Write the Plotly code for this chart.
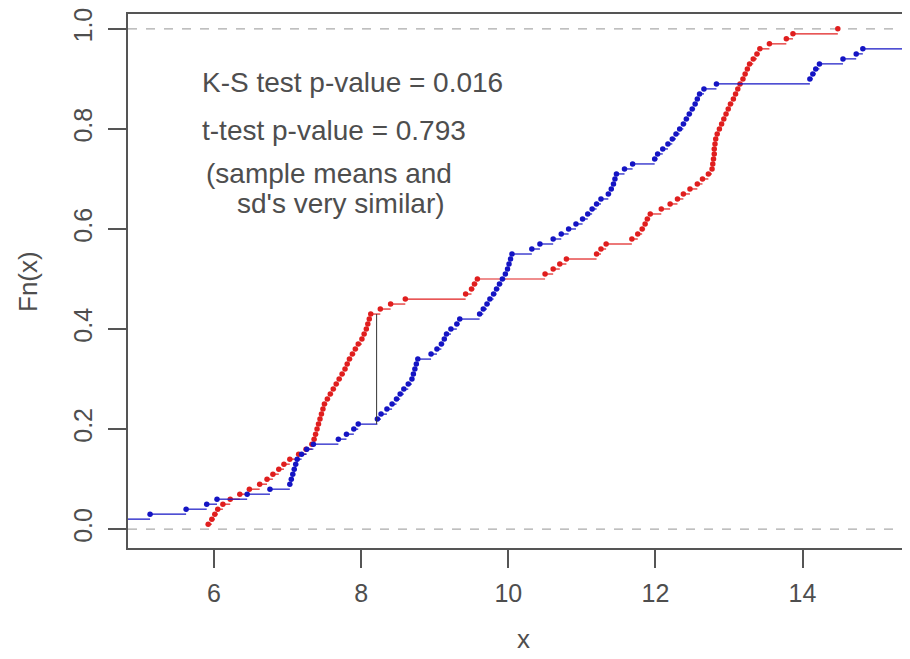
import plotly.graph_objects as go

# ---- data (sorted samples) ----
red_x = [5.92, 5.97, 6.01, 6.05, 6.12, 6.22, 6.35, 6.48, 6.62, 6.72,
         6.80, 6.88, 6.95, 7.03, 7.15, 7.25, 7.33, 7.36, 7.38, 7.40,
         7.42, 7.44, 7.46, 7.48, 7.50, 7.54, 7.58, 7.62, 7.66, 7.70,
         7.74, 7.78, 7.81, 7.84, 7.88, 7.92, 7.96, 8.01, 8.04, 8.07,
         8.09, 8.11, 8.13, 8.26, 8.40, 8.60, 9.42, 9.50, 9.54, 9.58,
         10.50, 10.61, 10.70, 10.79, 11.20, 11.26, 11.33, 11.68, 11.76, 11.82,
         11.86, 11.89, 11.93, 12.08, 12.20, 12.30, 12.38, 12.47, 12.57, 12.64,
         12.72, 12.77, 12.78, 12.79, 12.80, 12.80, 12.81, 12.82, 12.84, 12.87,
         12.90, 12.93, 12.96, 12.99, 13.02, 13.06, 13.09, 13.12, 13.15, 13.19,
         13.22, 13.25, 13.28, 13.33, 13.38, 13.42, 13.55, 13.78, 13.87, 14.48]

blue_x = [4.40, 4.70, 5.13, 5.62, 5.90, 6.04, 6.45, 6.76, 7.03, 7.05,
          7.07, 7.09, 7.11, 7.13, 7.19, 7.26, 7.35, 7.69, 7.80, 7.90,
          7.96, 8.22, 8.27, 8.35, 8.42, 8.48, 8.53, 8.58, 8.64, 8.69,
          8.71, 8.73, 8.75, 8.77, 8.95, 9.03, 9.09, 9.13, 9.16, 9.22,
          9.30, 9.34, 9.61, 9.66, 9.71, 9.75, 9.80, 9.84, 9.88, 9.92,
          9.96, 9.99, 10.01, 10.03, 10.05, 10.32, 10.43, 10.61, 10.72, 10.82,
          10.92, 11.01, 11.08, 11.14, 11.20, 11.26, 11.36, 11.40, 11.43, 11.45,
          11.47, 11.58, 11.69, 11.99, 12.03, 12.10, 12.17, 12.23, 12.28, 12.33,
          12.38, 12.42, 12.46, 12.50, 12.54, 12.57, 12.60, 12.66, 12.83, 14.10,
          14.14, 14.18, 14.23, 14.55, 14.73, 14.82, 15.70, 16.00, 16.40, 16.90]

ks_x = 8.21  # location of the K-S maximum distance

x_ticks = [6, 8, 10, 12, 14]
x_tick_labels = ["6", "8", "10", "12", "14"]
y_ticks = [0.0, 0.2, 0.4, 0.6, 0.8, 1.0]
y_tick_labels = ["0.0", "0.2", "0.4", "0.6", "0.8", "1.0"]

note_lines = ["K-S test p-value = 0.016",
              "t-test p-value = 0.793",
              "(sample means and",
              "sd's very similar)"]

RED = "#e01e1e"
BLUE = "#1414c4"
TXT = "#4e4e4e"
AX = "#555555"
FONT = "Liberation Sans, Arial, sans-serif"


def ecdf_points(vals):
    n = len(vals)
    return list(vals), [(k + 1) / n for k in range(n)]


def ecdf_segments(vals):
    n = len(vals)
    xs, ys = [], []
    for k in range(n - 1):
        y = (k + 1) / n
        xs += [vals[k], vals[k + 1], None]
        ys += [y, y, None]
    return xs, ys


def ecdf_at(vals, x):
    return sum(1 for v in vals if v <= x) / len(vals)


fig = go.Figure()

for vals, col in ((red_x, RED), (blue_x, BLUE)):
    sx, sy = ecdf_segments(vals)
    fig.add_trace(go.Scatter(x=sx, y=sy, mode="lines",
                             line=dict(color=col, width=1.2),
                             hoverinfo="skip", showlegend=False))
    px_, py_ = ecdf_points(vals)
    fig.add_trace(go.Scatter(x=px_, y=py_, mode="markers",
                             marker=dict(color=col, size=5.5),
                             showlegend=False))

# K-S distance segment
fig.add_trace(go.Scatter(x=[ks_x, ks_x],
                         y=[ecdf_at(blue_x, ks_x), ecdf_at(red_x, ks_x)],
                         mode="lines", line=dict(color="#333333", width=1),
                         showlegend=False))

# dashed reference lines at 0 and 1
for yv in (0, 1):
    fig.add_shape(type="line", xref="paper", x0=0, x1=1, yref="y", y0=yv, y1=yv,
                  line=dict(color="#aaaaaa", width=1.2, dash="dash"), layer="below")

note_pos = [(5.81, 0.893), (5.81, 0.796), (5.864, 0.711), (6.285, 0.651)]
for txt, (ax_, ay_) in zip(note_lines, note_pos):
    fig.add_annotation(x=ax_, y=ay_, xref="x", yref="y", text=txt, showarrow=False,
                       xanchor="left", yanchor="middle",
                       font=dict(family=FONT, size=28, color=TXT))

fig.add_annotation(x=0.5, y=-0.17, xref="paper", yref="paper", text="x",
                   showarrow=False, font=dict(family=FONT, size=26, color=TXT),
                   xanchor="center", yanchor="middle")
fig.add_annotation(x=-0.1266, y=0.5, xref="paper", yref="paper", text="Fn(x)",
                   showarrow=False, textangle=-90,
                   font=dict(family=FONT, size=26, color=TXT),
                   xanchor="center", yanchor="middle")

fig.update_layout(
    width=910, height=659,
    margin=dict(l=120, r=0, t=1, b=119),
    paper_bgcolor="white", plot_bgcolor="white",
    showlegend=False,
    xaxis=dict(range=[4.83, 15.57], tickvals=x_ticks, ticktext=x_tick_labels,
               showgrid=False, zeroline=False, showline=True, linecolor=AX,
               linewidth=1.5, mirror=True, ticks="outside", ticklen=18,
               tickcolor=AX, tickwidth=1.5, ticklabelstandoff=4,
               tickfont=dict(family=FONT, size=25, color=TXT)),
    yaxis=dict(range=[-0.0376, 1.0297], tickvals=y_ticks, ticktext=y_tick_labels,
               showgrid=False, zeroline=False, showline=True, linecolor=AX,
               linewidth=1.5, ticks="outside", ticklen=18, tickcolor=AX,
               tickwidth=1.5, tickangle=-90, ticklabelstandoff=6,
               ticklabeloverflow="allow",
               tickfont=dict(family=FONT, size=25, color=TXT)),
)

fig.write_html("out.html")
